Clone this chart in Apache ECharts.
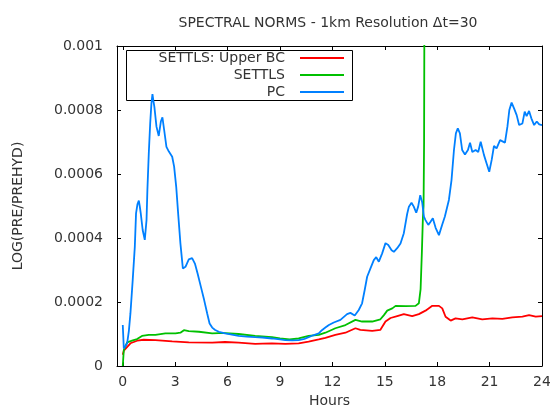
<!DOCTYPE html>
<html>
<head>
<meta charset="utf-8">
<script src="https://cdn.jsdelivr.net/npm/echarts@6/dist/echarts.min.js"></script>
<style>
  html, body { margin: 0; padding: 0; background: #fff; }
  #chart { width: 550px; height: 412px; }
</style>
</head>
<body>
<div id="chart"></div>
<script>
// Hours at which each run's norm was sampled, with the matching norm values.
const upperHours = [0, 0.06, 0.15, 0.44, 0.82, 1.2, 1.87, 2.83, 3.78, 5.12, 5.86, 6.63, 7.58, 8.0, 8.54, 9.3, 10.07, 10.64, 11.22, 11.6, 12.17, 12.75, 13.32, 13.6, 14.28, 14.75, 15.04, 15.33, 15.71, 16.09, 16.57, 16.95, 17.33, 17.72, 18.1, 18.29, 18.48, 18.77, 19.05, 19.44, 20.01, 20.58, 21.16, 21.73, 22.3, 22.88, 23.26, 23.64, 24.0];
const upperValues = [0.35e-4, 0.48e-4, 0.52e-4, 0.71e-4, 0.79e-4, 0.82e-4, 0.81e-4, 0.77e-4, 0.74e-4, 0.73e-4, 0.75e-4, 0.73e-4, 0.69e-4, 0.70e-4, 0.71e-4, 0.69e-4, 0.71e-4, 0.76e-4, 0.83e-4, 0.88e-4, 0.97e-4, 1.04e-4, 1.18e-4, 1.13e-4, 1.10e-4, 1.13e-4, 1.39e-4, 1.50e-4, 1.56e-4, 1.62e-4, 1.56e-4, 1.62e-4, 1.73e-4, 1.88e-4, 1.88e-4, 1.80e-4, 1.54e-4, 1.42e-4, 1.49e-4, 1.46e-4, 1.52e-4, 1.46e-4, 1.49e-4, 1.47e-4, 1.52e-4, 1.54e-4, 1.59e-4, 1.54e-4, 1.56e-4];

const settlsHours = [0, 0.06, 0.25, 0.53, 0.82, 1.1, 1.49, 1.87, 2.44, 3.02, 3.3, 3.5, 3.78, 4.36, 5.12, 5.5, 5.86, 6.63, 7.58, 8.54, 9.0, 9.55, 10.07, 10.64, 11.22, 11.6, 12.17, 12.75, 13.32, 13.7, 14.28, 14.75, 14.95, 15.14, 15.43, 15.62, 16.19, 16.76, 16.95, 17.05, 17.12, 17.18, 17.22, 17.25, 17.28];
const settlsValues = [0, 0.50e-4, 0.74e-4, 0.79e-4, 0.84e-4, 0.94e-4, 0.97e-4, 0.97e-4, 1.02e-4, 1.02e-4, 1.04e-4, 1.12e-4, 1.09e-4, 1.07e-4, 1.02e-4, 1.03e-4, 1.03e-4, 1.00e-4, 0.94e-4, 0.90e-4, 0.86e-4, 0.83e-4, 0.86e-4, 0.94e-4, 0.97e-4, 1.04e-4, 1.18e-4, 1.28e-4, 1.44e-4, 1.39e-4, 1.39e-4, 1.46e-4, 1.59e-4, 1.73e-4, 1.80e-4, 1.88e-4, 1.87e-4, 1.88e-4, 1.96e-4, 2.4e-4, 3.5e-4, 4.6e-4, 5.0e-4, 7.0e-4, 14e-4];

const pcHours = [0, 0.06, 0.15, 0.25, 0.35, 0.44, 0.57, 0.69, 0.76, 0.84, 0.92, 0.97, 1.03, 1.14, 1.26, 1.36, 1.41, 1.49, 1.57, 1.64, 1.70, 1.75, 1.81, 1.93, 2.06, 2.18, 2.27, 2.37, 2.5, 2.64, 2.83, 2.94, 3.06, 3.17, 3.3, 3.44, 3.59, 3.78, 3.97, 4.13, 4.28, 4.47, 4.66, 4.83, 4.97, 5.12, 5.29, 5.5, 5.86, 6.25, 6.63, 7.1, 7.58, 8.0, 8.54, 9.0, 9.3, 9.7, 10.07, 10.4, 10.64, 10.9, 11.22, 11.4, 11.6, 11.8, 12.08, 12.46, 12.84, 13.03, 13.28, 13.51, 13.7, 13.85, 13.99, 14.18, 14.37, 14.51, 14.66, 14.85, 15.04, 15.2, 15.39, 15.52, 15.71, 15.9, 16.09, 16.28, 16.38, 16.53, 16.66, 16.8, 16.91, 17.03, 17.14, 17.24, 17.33, 17.49, 17.62, 17.75, 17.91, 18.1, 18.29, 18.44, 18.67, 18.82, 18.96, 19.07, 19.18, 19.3, 19.43, 19.59, 19.76, 19.88, 20.01, 20.2, 20.35, 20.49, 20.68, 20.83, 20.98, 21.12, 21.25, 21.4, 21.6, 21.88, 22.02, 22.13, 22.26, 22.4, 22.55, 22.69, 22.88, 23.01, 23.12, 23.26, 23.39, 23.55, 23.7, 23.84, 24.0];
const pcValues = [1.28e-4, 0.55e-4, 0.62e-4, 0.71e-4, 1.10e-4, 1.65e-4, 2.69e-4, 3.73e-4, 4.77e-4, 5.05e-4, 5.17e-4, 5.00e-4, 4.77e-4, 4.25e-4, 3.94e-4, 4.56e-4, 5.50e-4, 6.65e-4, 7.58e-4, 8.20e-4, 8.50e-4, 8.30e-4, 8.10e-4, 7.48e-4, 7.19e-4, 7.64e-4, 7.77e-4, 7.375e-4, 6.85e-4, 6.70e-4, 6.54e-4, 6.23e-4, 5.60e-4, 4.77e-4, 3.83e-4, 3.05e-4, 3.10e-4, 3.33e-4, 3.37e-4, 3.20e-4, 2.90e-4, 2.48e-4, 2.06e-4, 1.65e-4, 1.33e-4, 1.20e-4, 1.125e-4, 1.07e-4, 1.02e-4, 0.98e-4, 0.94e-4, 0.92e-4, 0.90e-4, 0.89e-4, 0.86e-4, 0.83e-4, 0.81e-4, 0.80e-4, 0.81e-4, 0.85e-4, 0.90e-4, 0.96e-4, 1.02e-4, 1.12e-4, 1.20e-4, 1.28e-4, 1.36e-4, 1.44e-4, 1.62e-4, 1.66e-4, 1.58e-4, 1.75e-4, 1.96e-4, 2.375e-4, 2.79e-4, 3.05e-4, 3.31e-4, 3.40e-4, 3.26e-4, 3.52e-4, 3.84e-4, 3.78e-4, 3.62e-4, 3.57e-4, 3.68e-4, 3.83e-4, 4.15e-4, 4.75e-4, 4.98e-4, 5.10e-4, 4.98e-4, 4.79e-4, 4.98e-4, 5.34e-4, 5.12e-4, 4.67e-4, 4.56e-4, 4.41e-4, 4.51e-4, 4.62e-4, 4.32e-4, 4.09e-4, 4.42e-4, 4.67e-4, 5.19e-4, 5.81e-4, 6.75e-4, 7.27e-4, 7.43e-4, 7.27e-4, 6.75e-4, 6.61e-4, 6.75e-4, 6.98e-4, 6.69e-4, 6.75e-4, 6.69e-4, 7.01e-4, 6.59e-4, 6.33e-4, 6.07e-4, 6.44e-4, 6.875e-4, 6.80e-4, 7.06e-4, 6.98e-4, 7.48e-4, 8.00e-4, 8.23e-4, 8.05e-4, 7.84e-4, 7.53e-4, 7.58e-4, 7.95e-4, 7.81e-4, 7.97e-4, 7.74e-4, 7.53e-4, 7.64e-4, 7.55e-4, 7.53e-4];

const seriesNames = ['SETTLS: Upper BC', 'SETTLS', 'PC'];
const hourTicks = [0, 3, 6, 9, 12, 15, 18, 21, 24];

const FONT = 'DejaVu Sans';
const TEXT = '#333';
// Legend key: a thin horizontal bar centred in a 44x14 box.
const KEY_ICON = 'path://M0 0M44 14M0 6.1H44V7.9H0Z';

function pairs(xs, ys) {
  return xs.map((x, i) => [x, ys[i]]);
}

const chart = echarts.init(document.getElementById('chart'), null, { renderer: 'canvas' });

const xCommon = {
  type: 'value',
  min: -0.33,
  max: 24,
  splitLine: { show: false },
  axisLine: { show: true, onZero: false, lineStyle: { color: '#000', width: 1 } },
  axisTick: { show: true, inside: true, length: 4, customValues: hourTicks, lineStyle: { color: '#000' } }
};
const yCommon = {
  type: 'value',
  min: 0,
  max: 0.001,
  interval: 0.0002,
  splitLine: { show: false },
  axisLine: { show: true, onZero: false, lineStyle: { color: '#000', width: 1 } },
  axisTick: { show: true, inside: true, length: 4, lineStyle: { color: '#000' } }
};

const option = {
  animation: false,
  backgroundColor: '#fff',
  title: {
    text: 'SPECTRAL NORMS - 1km Resolution \u0394t=30',
    left: 323,
    textAlign: 'center',
    top: 11,
    textStyle: { fontFamily: FONT, fontSize: 14, fontWeight: 'normal', color: TEXT }
  },
  grid: { left: 117, right: 8, top: 46, bottom: 46, containLabel: false, outerBoundsMode: 'none' },
  legend: {
    data: seriesNames,
    orient: 'vertical',
    align: 'right',
    right: 206,
    top: 51,
    padding: 0,
    itemGap: 3,
    itemWidth: 44,
    itemHeight: 14,
    icon: KEY_ICON,
    itemStyle: { borderWidth: 0 },
    textStyle: { fontFamily: FONT, fontSize: 14, color: TEXT, padding: [0, 10, 0, 0] }
  },
  graphic: [{
    type: 'rect',
    shape: { x: 126.5, y: 50.5, width: 226, height: 50 },
    style: { fill: 'none', stroke: '#000', lineWidth: 1 },
    silent: true
  }],
  xAxis: [
    Object.assign({}, xCommon, {
      position: 'bottom',
      name: 'Hours',
      nameLocation: 'middle',
      nameGap: 24,
      nameTextStyle: { fontFamily: FONT, fontSize: 14, color: TEXT },
      axisLabel: { customValues: hourTicks, margin: 9, fontFamily: FONT, fontSize: 14, color: TEXT }
    }),
    Object.assign({}, xCommon, {
      position: 'top',
      axisLabel: { show: false }
    })
  ],
  yAxis: [
    Object.assign({}, yCommon, {
      position: 'left',
      name: 'LOG(PRE/PREHYD)',
      nameLocation: 'middle',
      nameGap: 92,
      nameRotate: 90,
      nameTextStyle: { fontFamily: FONT, fontSize: 14, color: TEXT },
      axisLabel: {
        margin: 14, fontFamily: FONT, fontSize: 14, color: TEXT,
        formatter: v => String(+v.toFixed(4))
      }
    }),
    Object.assign({}, yCommon, {
      position: 'right',
      axisLabel: { show: false }
    })
  ],
  series: [
    { name: seriesNames[0], color: '#ff0000', data: pairs(upperHours, upperValues) },
    { name: seriesNames[1], color: '#00c000', data: pairs(settlsHours, settlsValues) },
    { name: seriesNames[2], color: '#0080ff', data: pairs(pcHours, pcValues) }
  ].map(s => ({
    name: s.name,
    type: 'line',
    xAxisIndex: 0,
    yAxisIndex: 0,
    data: s.data,
    symbol: 'none',
    showSymbol: false,
    clip: true,
    itemStyle: { color: s.color },
    lineStyle: { color: s.color, width: 1.8 }
  }))
};

chart.setOption(option);
</script>
</body>
</html>
